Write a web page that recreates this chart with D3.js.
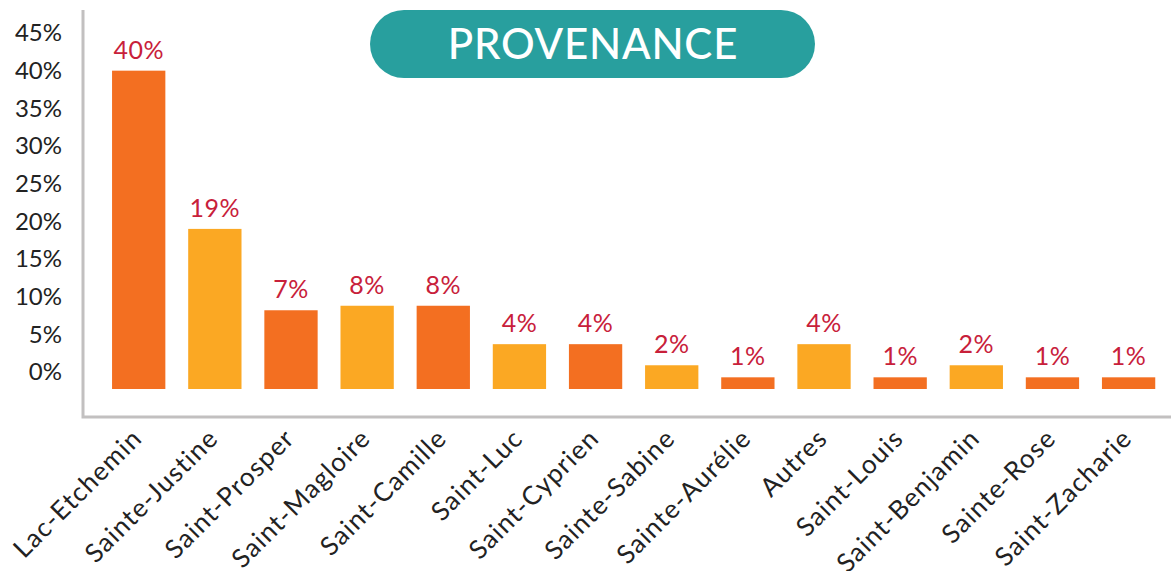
<!DOCTYPE html>
<html>
<head>
<meta charset="utf-8">
<script src="https://cdn.jsdelivr.net/npm/d3@7"></script>
<style>
	body { margin: 0; background: #fff; }
	text { font-family: "Century Gothic", Lato, "DejaVu Sans", sans-serif; }
</style>
</head>
<body>
<div id="container"></div>
<script>
// 1. Data
const categories = ["Lac-Etchemin", "Sainte-Justine", "Saint-Prosper", "Saint-Magloire", "Saint-Camille",
	"Saint-Luc", "Saint-Cyprien", "Sainte-Sabine", "Sainte-Aurélie", "Autres", "Saint-Louis",
	"Saint-Benjamin", "Sainte-Rose", "Saint-Zacharie"]
// bar heights as read on the drawn axis (the bars do not start at 0%)
const barValues = [40, 19, 8.2, 8.8, 8.8, 3.7, 3.7, 0.9, -0.7, 3.7, -0.7, 0.9, -0.7, -0.7]
// printed labels
const labels = ["40%", "19%", "7%", "8%", "8%", "4%", "4%", "2%", "1%", "4%", "1%", "2%", "1%", "1%"]
const barColors = ["#f36f21", "#fba823", "#f36f21", "#fba823", "#f36f21", "#fba823", "#f36f21",
	"#fba823", "#f36f21", "#fba823", "#f36f21", "#fba823", "#f36f21", "#f36f21"]
const tickValues = [0, 5, 10, 15, 20, 25, 30, 35, 40, 45]
const title = "PROVENANCE"

// 2. Dimensions
const width = 1171
const height = 571

const svg = d3.select("#container")
	.append("svg")
	.attr("width", width)
	.attr("height", height)

// 3. Scales
const x = d3.scaleBand()
	.domain(categories)
	.range([85.4, 1181.9])
	.paddingInner(0.3)
	.paddingOuter(0.35)

const y = d3.scaleLinear()
	.domain([-2.25, 45])
	.range([389, 33])

// 4. Axis frame
svg.append("path")
	.attr("d", `M 83 10 L 83 417 L ${width} 417`)
	.attr("fill", "none")
	.attr("stroke", "#c2c0c0")
	.attr("stroke-width", 3)

// y tick labels
svg.selectAll(".ytick")
	.data(tickValues)
	.join("text")
	.attr("class", "ytick")
	.attr("x", 62)
	.attr("y", d => y(d))
	.attr("dy", "0.35em")
	.attr("text-anchor", "end")
	.attr("font-size", 24)
	.attr("fill", "#222")
	.text(d => d + "%")

// 5. Bars
const data = categories.map((c, i) => ({ c, v: barValues[i], label: labels[i], color: barColors[i] }))

svg.selectAll(".bar")
	.data(data)
	.join("rect")
	.attr("class", "bar")
	.attr("x", d => x(d.c))
	.attr("width", x.bandwidth())
	.attr("y", d => y(d.v))
	.attr("height", d => y(-2.25) - y(d.v))
	.attr("fill", d => d.color)

svg.selectAll(".value")
	.data(data)
	.join("text")
	.attr("class", "value")
	.attr("x", d => x(d.c) + x.bandwidth() / 2)
	.attr("y", d => y(d.v) - 12)
	.attr("text-anchor", "middle")
	.attr("font-size", 25)
	.attr("letter-spacing", 0.5)
	.attr("fill", "#c8203a")
	.text(d => d.label)

// category labels
svg.selectAll(".xlabel")
	.data(categories)
	.join("text")
	.attr("class", "xlabel")
	.attr("transform", d => `translate(${x(d) + x.bandwidth() / 2 + 5}, 440) rotate(-45)`)
	.attr("text-anchor", "end")
	.attr("font-size", 26)
	.attr("letter-spacing", 1.2)
	.attr("fill", "#222")
	.text(d => d)

// 6. Title pill
const pill = svg.append("g")
pill.append("rect")
	.attr("x", 370)
	.attr("y", 10)
	.attr("width", 445)
	.attr("height", 68)
	.attr("rx", 34)
	.attr("fill", "#289f9e")
pill.append("text")
	.attr("x", 593)
	.attr("y", 44)
	.attr("dy", "0.35em")
	.attr("text-anchor", "middle")
	.attr("font-size", 42)
	.attr("font-weight", 500)
	.attr("letter-spacing", 0.8)
	.attr("fill", "#fff")
	.text(title)
</script>
</body>
</html>
